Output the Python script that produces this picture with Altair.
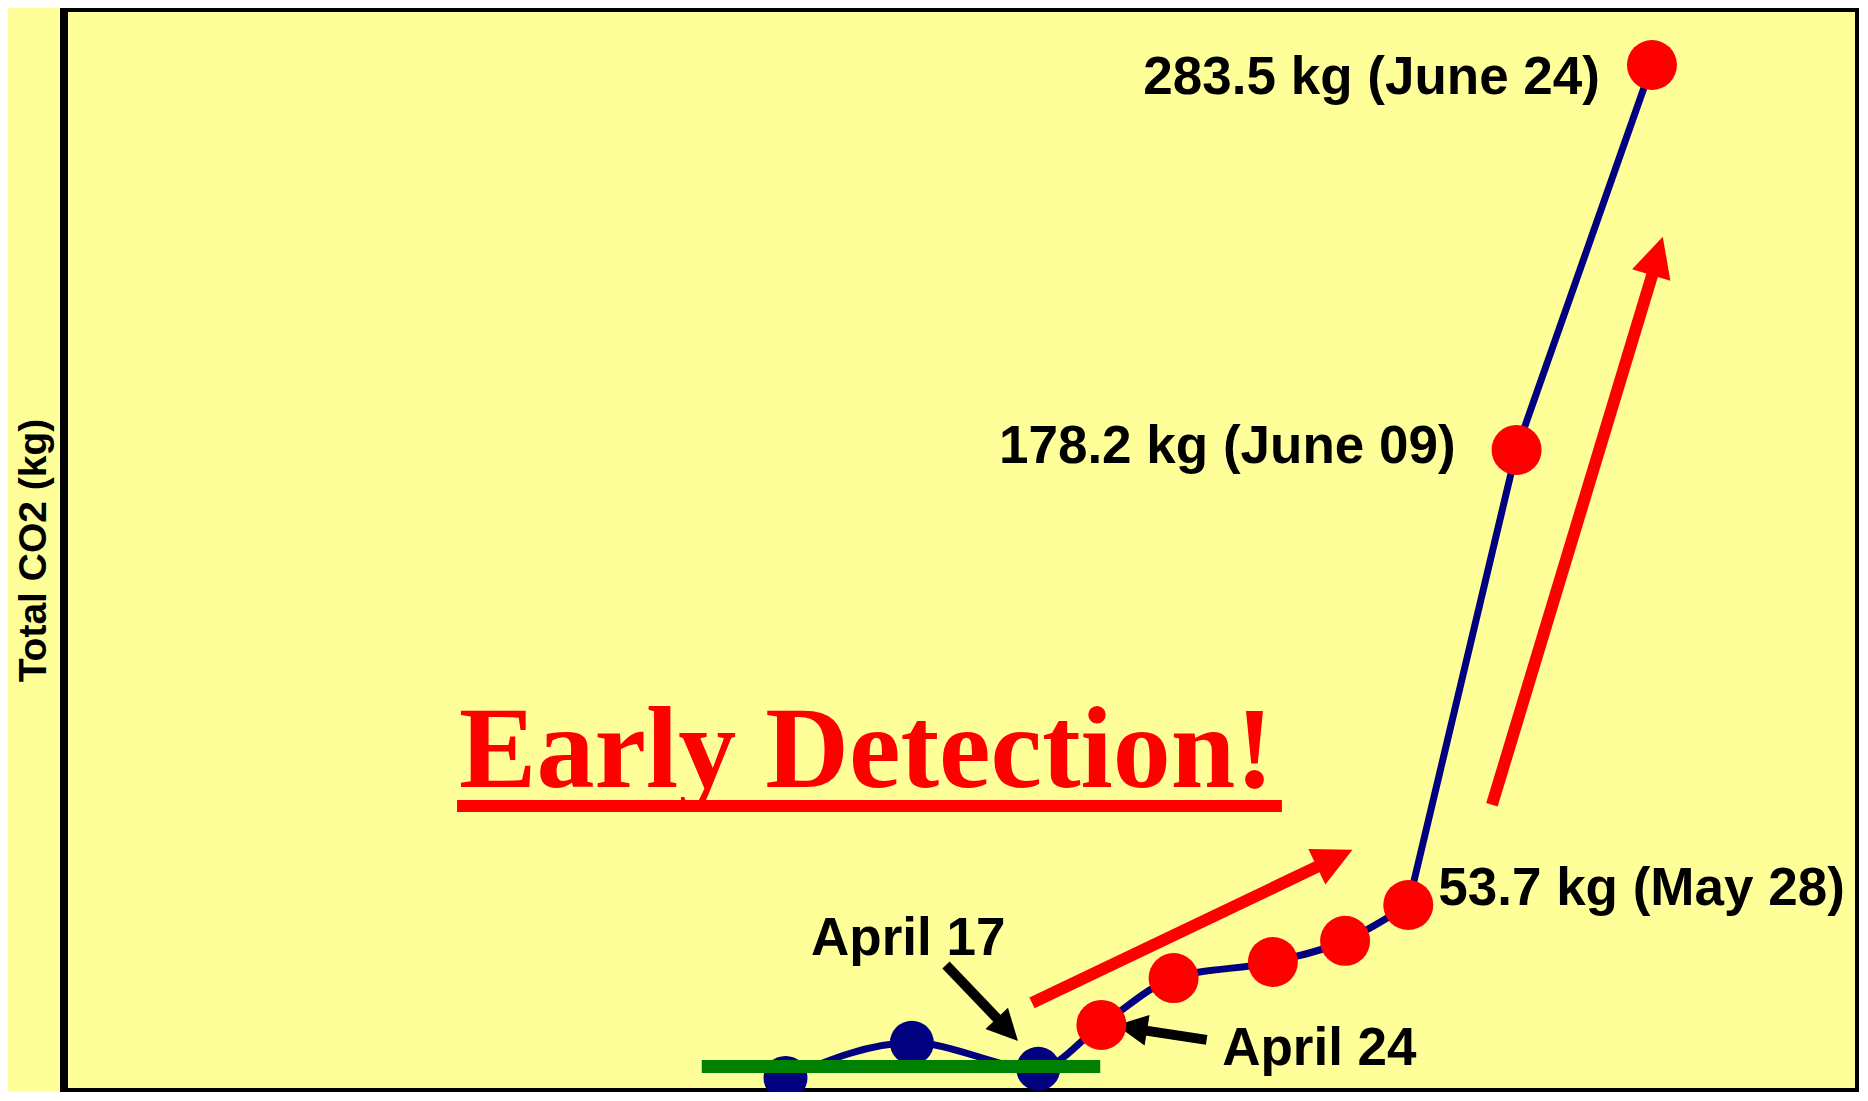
import altair as alt
import pandas as pd

# ---- measured series (date, total CO2 in kg) ----
dates = ["2005-03-20", "2005-04-03", "2005-04-17", "2005-04-24", "2005-05-02",
         "2005-05-13", "2005-05-21", "2005-05-28", "2005-06-09", "2005-06-24"]
co2_kg = [6.4, 16.0, 8.9, 20.9, 33.7, 38.1, 43.9, 53.7, 178.2, 283.5]
phase = ["baseline", "baseline", "baseline", "leak", "leak",
         "leak", "leak", "leak", "leak", "leak"]

# points that carry a value label
label_dates = ["2005-06-24", "2005-06-09", "2005-05-28"]

# green baseline level
baseline_start = "2005-03-10T17:17"
baseline_end = "2005-04-23T20:53"
baseline_kg = 9.5

# annotations
ann_text = ["April 17", "April 24"]
ann_date = ["2005-03-22T19:55", "2005-05-07T09:07"]
ann_kg = [40.0, 9.9]

headline = "Early Detection!"
headline_date = "2005-02-11T19:55"
headline_kg = 86.0
underline_start = "2005-02-11T14:38"
underline_end = "2005-05-14T00:00"
underline_kg = 80.8

# arrows: tail, neck (shaft end), tip
arrow_tail_date = ["2005-04-06T18:43", "2005-05-05T15:50", "2005-04-16T07:26", "2005-06-06T06:29"]
arrow_tail_kg = [37.3, 16.8, 26.9, 81.1]
arrow_neck_date = ["2005-04-13T00:14", "2005-04-28T05:02", "2005-05-19T00:43", "2005-06-24T09:50"]
arrow_neck_kg = [21.2, 19.6, 65.5, 229.2]
arrow_tip_date = ["2005-04-14T18:14", "2005-04-25T16:05", "2005-05-21T19:41", "2005-06-25T04:48"]
arrow_tip_kg = [16.5, 20.8, 68.8, 236.5]

# ---- styles ----
NAVY = "#000080"
RED = "#FF0000"
GREEN = "#008000"
BG = "#FFFF99"
arrow_color = ["black", "black", RED, RED]
arrow_width = [10, 10, 12, 12]
arrow_head = [961, 961, 1560, 1600]
arrow_angle = [136.6, 279.2, 64.5, 16.8]
label_style = [("right", -52, 29), ("right", -61, 13), ("left", 30, 0)]

xs = alt.Scale(domain=[alt.DateTime(year=2004, month=12, date=30, hours=1, minutes=26),
                       alt.DateTime(year=2005, month=7, date=16, hours=22, minutes=33)],
               nice=False)
ys = alt.Scale(domain=[2.54, 299.09], nice=False, zero=False)

yaxis = alt.Axis(title="Total CO2 (kg)", labels=False, ticks=False, domain=False, grid=False,
                 titleFont="Liberation Sans", titleFontSize=39, titleFontWeight="bold",
                 titleColor="black", titlePadding=11, titleAngle=270)


def X(f):
    return alt.X(f"{f}:T", scale=xs, axis=None)


def Y(f):
    return alt.Y(f"{f}:Q", scale=ys, axis=yaxis, title="Total CO2 (kg)")


df = pd.DataFrame({"date": [d + "T00:00" for d in dates], "co2": co2_kg, "phase": phase})

layers = []
# smooth curve through the slow phase, straight runs through the surge
line_a = alt.Chart(df.iloc[:8]).mark_line(color=NAVY, strokeWidth=7,
                                          interpolate="monotone").encode(
    x=X("date"), y=Y("co2"))
line_b = alt.Chart(df.iloc[7:]).mark_line(color=NAVY, strokeWidth=7,
                                          interpolate="linear").encode(
    x=X("date"), y=Y("co2"))
layers += [line_a, line_b]

for i in range(len(arrow_tail_date)):
    adf = pd.DataFrame({"t": [arrow_tail_date[i]], "tk": [arrow_tail_kg[i]],
                        "n": [arrow_neck_date[i]], "nk": [arrow_neck_kg[i]],
                        "p": [arrow_tip_date[i]], "pk": [arrow_tip_kg[i]]})
    shaft = alt.Chart(adf).mark_rule(color=arrow_color[i], strokeWidth=arrow_width[i]).encode(
        x=X("t"), x2=alt.X2("n"), y=Y("tk"), y2=alt.Y2("nk"))
    head = alt.Chart(adf).mark_point(shape="M0,0L-1,2L1,2Z", filled=True, fill=arrow_color[i],
                                     color=arrow_color[i], size=arrow_head[i],
                                     angle=arrow_angle[i], opacity=1, strokeWidth=0).encode(
        x=X("p"), y=Y("pk"))
    layers += [shaft, head]

blue_pts = alt.Chart(df).transform_filter(alt.datum.phase == "baseline").mark_circle(
    color=NAVY, size=1936, opacity=1).encode(x=X("date"), y=Y("co2"))
layers.append(blue_pts)

gdf = pd.DataFrame({"s": [baseline_start], "e": [baseline_end], "k": [baseline_kg]})
green = alt.Chart(gdf).mark_rule(color=GREEN, strokeWidth=13).encode(
    x=X("s"), x2=alt.X2("e"), y=Y("k"))
layers.append(green)

red_pts = alt.Chart(df).transform_filter(alt.datum.phase == "leak").mark_circle(
    color=RED, size=2500, opacity=1).encode(x=X("date"), y=Y("co2"))
layers.append(red_pts)

for d, (al, dx, dy) in zip(label_dates, label_style):
    idx = dates.index(d)
    ts = pd.Timestamp(d)
    txt = f"{co2_kg[idx]} kg ({ts.strftime('%B %d')})"
    ldf = pd.DataFrame({"date": [d + "T00:00"], "co2": [co2_kg[idx]], "label": [txt]})
    layers.append(alt.Chart(ldf).mark_text(
        align=al, baseline="alphabetic", dx=dx, dy=dy, font="Liberation Sans",
        fontWeight="bold", fontSize=53, color="black").encode(
        x=X("date"), y=Y("co2"), text="label:N"))

adf2 = pd.DataFrame({"date": ann_date, "kg": ann_kg, "label": ann_text})
layers.append(alt.Chart(adf2).mark_text(
    align="left", baseline="alphabetic", font="Liberation Sans", fontWeight="bold",
    fontSize=53, color="black").encode(x=X("date"), y=Y("kg"), text="label:N"))

udf = pd.DataFrame({"s": [underline_start], "e": [underline_end], "k": [underline_kg]})
layers.append(alt.Chart(udf).mark_rule(color=RED, strokeWidth=12).encode(
    x=X("s"), x2=alt.X2("e"), y=Y("k")))

hdf = pd.DataFrame({"date": [headline_date], "kg": [headline_kg], "label": [headline]})
layers.append(alt.Chart(hdf).mark_text(
    align="left", baseline="alphabetic", font="Liberation Serif", fontWeight="bold",
    fontSize=116, color=RED).encode(x=X("date"), y=Y("kg"), text="label:N"))

chart = alt.layer(*layers).properties(
    width=1795, height=1084, background=BG,
    padding={"left": 56, "top": 0, "right": 0, "bottom": 0},
    autosize=alt.AutoSizeParams(type="none"),
).configure_view(stroke="black", strokeWidth=8)

chart.save("out.html", embed_options={"renderer": "svg", "actions": False})
